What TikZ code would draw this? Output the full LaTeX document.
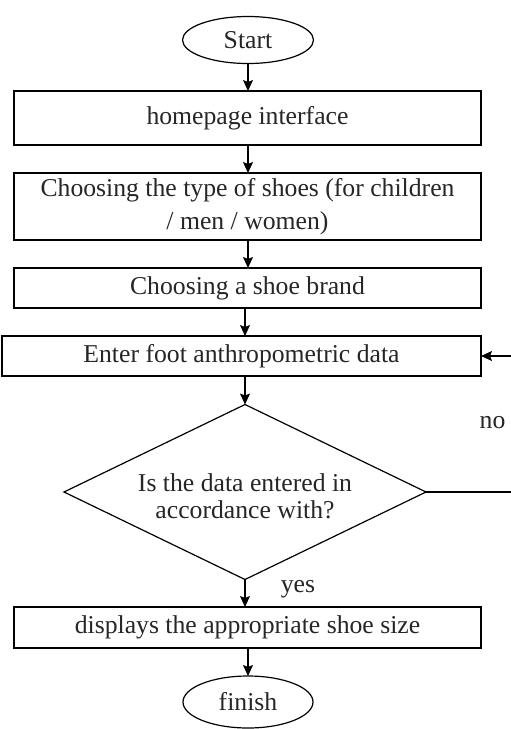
\documentclass[tikz,border=0pt]{standalone}
\usepackage{fontspec}
\setmainfont{Liberation Serif}
\usetikzlibrary{shapes.geometric,arrows.meta}
\begin{document}
\begin{tikzpicture}[x=0.5pt,y=-0.5pt,
  every node/.style={font=\fontsize{12.85}{16.5}\selectfont, inner sep=0pt, outer sep=0pt, text=black!85},
  procbox/.style={draw, line width=0.6pt, rectangle, align=center},
  term/.style={draw, line width=0.6pt, ellipse},
  flow/.style={line width=0.6pt, -{Stealth[length=5.5pt,width=5pt,inset=1pt]}}]
\useasboundingbox (0,0) rectangle (510,729);
\node[term, minimum width=65.5pt, minimum height=23.5pt] (start) at (248,40) {Start};
\node[procbox, minimum width=233.5pt, minimum height=27pt] (home) at (247.5,118) {homepage interface};
\node[procbox, minimum width=233.5pt, minimum height=33.5pt] (type) at (247.5,206.5) {Choosing the type of shoes (for children\\ / men / women)};
\node[procbox, minimum width=233.5pt, minimum height=20pt] (brand) at (247.5,288) {Choosing a shoe brand};
\node[procbox, minimum width=239.5pt, minimum height=20pt] (enter) at (241.5,356) {Enter foot anthropometric data};
\node[draw, line width=0.6pt, diamond, shape aspect=2.07, minimum width=181pt, minimum height=87.5pt] (dec) at (245,492) {};
\node[align=center, font=\fontsize{12.85}{13.5}\selectfont] (dectext) at (245,496) {Is the data entered in\\ accordance with?};
\node[procbox, minimum width=233.5pt, minimum height=20.5pt] (disp) at (247.5,627.5) {displays the appropriate shoe size};
\node[term, minimum width=65pt, minimum height=26pt] (finish) at (248,702) {finish};
\node[anchor=base] (yes) at (298,592) {yes};
\node[anchor=base] (no) at (492.5,428) {no};
\coordinate (cA) at (525,492);
\coordinate (cB) at (525,356);
\draw[flow] (start.south) -- (start.south |- home.north);
\draw[flow] (start.south |- home.south) -- (start.south |- type.north);
\draw[flow] (start.south |- type.south) -- (start.south |- brand.north);
\draw[flow] (dec.north |- brand.south) -- (dec.north |- enter.north);
\draw[flow] (dec.north |- enter.south) -- (dec.north);
\draw[flow] (dec.south) -- (dec.south |- disp.north);
\draw[flow] (finish.north |- disp.south) -- (finish.north);
\draw[flow] (dec.east) -- (cA) -- (cB) -- (enter.east);
\end{tikzpicture}
\end{document}
